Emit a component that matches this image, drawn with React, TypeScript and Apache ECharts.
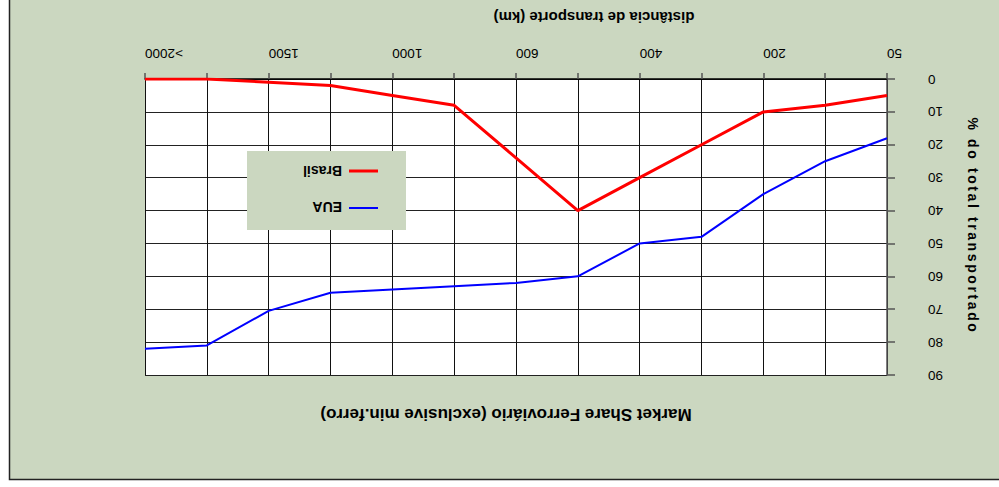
import React, { useEffect, useRef } from "react";
import * as echarts from "echarts";

const categories = ["50", "", "200", "", "400", "", "600", "", "1000", "", "1500", "", ">2000"];
const brasil = [5, 8, 10, 20, 30, 40, 24, 8, 5, 2, 1, 0, 0];
const eua = [18, 25, 35, 48, 50, 60, 62, 63, 64, 65, 70.5, 81, 82];
const seriesNames = ["Brasil", "EUA"];
const yTitle = "% do total transportado";
const xTitle = "distância de transporte (km)";
const mainTitle = "Market Share Ferroviário (exclusive min.ferro)";

const BG = "#CBD7C0";
const SANS = "'Liberation Sans', Arial, Helvetica, sans-serif";

export default function App() {
  const ref = useRef<HTMLDivElement>(null);
  useEffect(() => {
    if (!ref.current) return;
    const el = ref.current;
    const chart = echarts.init(el, undefined, { renderer: "svg" });
    const option: any = {
      animation: false,
      backgroundColor: "#ffffff",
      grid: { left: 145, right: 112, top: 79, bottom: 112, show: true, backgroundColor: "#ffffff", borderWidth: 0 },
      xAxis: {
        type: "category",
        data: categories,
        boundaryGap: false,
        inverse: true,
        position: "top",
        axisLine: { show: true, lineStyle: { color: "#000", width: 1.5 } },
        axisTick: { show: true, interval: 0, length: 6, inside: false, lineStyle: { color: "#555", width: 1.5 } },
        axisLabel: {
          interval: 0,
          rotate: 180,
          margin: 19,
          align: "right",
          fontSize: 13.5,
          fontFamily: SANS,
          color: "#000",
        },
        splitLine: { show: true, interval: 0, lineStyle: { color: "#111", width: 1 } },
      },
      yAxis: {
        type: "value",
        inverse: true,
        position: "right",
        min: 0,
        max: 90,
        interval: 10,
        axisLine: { show: true, lineStyle: { color: "#555", width: 1.5 } },
        axisTick: { show: true, length: 8, inside: false, lineStyle: { color: "#555", width: 1.5 } },
        axisLabel: {
          rotate: 180,
          margin: 41,
          align: "right",
          verticalAlign: "middle",
          fontSize: 13.5,
          fontFamily: SANS,
          color: "#000",
        },
        splitLine: { show: true, lineStyle: { color: "#222", width: 1 } },
      },
      series: [
        {
          name: seriesNames[1],
          type: "line",
          data: eua,
          symbol: "none",
          lineStyle: { color: "#0000FF", width: 2 },
          z: 3,
        },
        {
          name: seriesNames[0],
          type: "line",
          data: brasil,
          symbol: "none",
          lineStyle: { color: "#FF0000", width: 3 },
          z: 4,
        },
      ],
      graphic: [
        {
          type: "rect",
          z: -100,
          shape: { x: 9.5, y: -10, width: 1010, height: 489.5 },
          style: { fill: BG, stroke: "#222", lineWidth: 1.5 },
          silent: true,
        },
        {
          type: "text",
          x: 594,
          y: 17.5,
          rotation: Math.PI,
          z: 50,
          style: { text: xTitle, align: "center", verticalAlign: "middle", font: `bold 15px ${SANS}`, fill: "#000" },
        },
        {
          type: "text",
          x: 506,
          y: 414,
          rotation: Math.PI,
          z: 50,
          style: { text: mainTitle, align: "center", verticalAlign: "middle", font: `bold 17px ${SANS}`, fill: "#000" },
        },
        {
          type: "text",
          x: 973,
          y: 226,
          rotation: -Math.PI / 2,
          z: 50,
          style: { text: yTitle, align: "center", verticalAlign: "middle", font: `bold 14px ${SANS}`, fill: "#000" },
        },
        {
          type: "group",
          z: 100,
          children: [
            {
              type: "rect",
              z: 100,
              shape: { x: 247, y: 151, width: 159, height: 79 },
              style: { fill: BG },
            },
            {
              type: "line",
              z: 101,
              shape: { x1: 349, y1: 171, x2: 378, y2: 171 },
              style: { stroke: "#FF0000", lineWidth: 3 },
            },
            {
              type: "line",
              z: 101,
              shape: { x1: 349, y1: 208, x2: 378, y2: 208 },
              style: { stroke: "#0000FF", lineWidth: 2 },
            },
            {
              type: "text",
              z: 101,
              x: 342,
              y: 171,
              rotation: Math.PI,
              style: { text: seriesNames[0], align: "left", verticalAlign: "middle", font: `bold 14px ${SANS}`, fill: "#000" },
            },
            {
              type: "text",
              z: 101,
              x: 342,
              y: 206.5,
              rotation: Math.PI,
              style: { text: seriesNames[1], align: "left", verticalAlign: "middle", font: `bold 14px ${SANS}`, fill: "#000" },
            },
          ],
        },
      ],
    };
    chart.setOption(option);
    const applySpacing = () => {
      el.querySelectorAll("text").forEach((t) => {
        if (t.textContent === yTitle) {
          t.setAttribute("letter-spacing", "2.6");
        }
      });
    };
    chart.on("finished", applySpacing);
    applySpacing();
    const timer = setTimeout(applySpacing, 50);
    return () => {
      clearTimeout(timer);
      chart.dispose();
    };
  }, []);
  return (
    <div
      ref={ref}
      style={{ position: "fixed", left: 0, top: 0, width: 999, height: 487 }}
    />
  );
}
